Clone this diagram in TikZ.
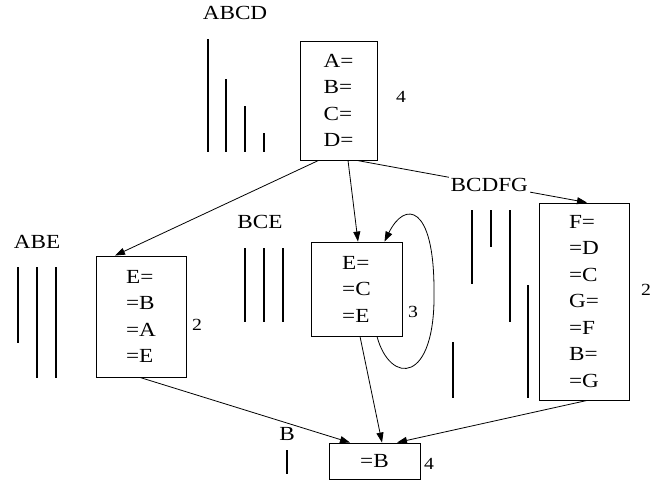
\documentclass[tikz,border=0pt]{standalone}
\usepackage{fontspec}
\setmainfont{Liberation Serif}[FakeStretch=1.16]
\usetikzlibrary{arrows.meta}
\begin{document}
\begin{tikzpicture}[x=1pt,y=-1pt,
  box/.style={draw, line width=0.9pt, rectangle, align=left, inner sep=0pt,
              font=\fontsize{20}{26.5}\selectfont},
  lbl/.style={font=\fontsize{20}{24}\selectfont, inner sep=1pt},
  num/.style={font=\fontsize{17}{20}\selectfont, inner sep=1pt},
  bar/.style={line width=2.4pt},
  edge/.style={line width=0.8pt, -{Triangle[length=10pt,width=7pt]}}]
\useasboundingbox (0,0) rectangle (658,482);

% record boxes
\node[box, minimum width=77pt, minimum height=119pt] (abcd) at (338.5,100.5) {A=\\B=\\C=\\D=};
\node[box, minimum width=90pt, minimum height=121pt] (abe) at (141,316.5) {E=\\=B\\=A\\=E};
\node[box, minimum width=91pt, minimum height=94pt] (bce) at (356.5,289) {E=\\=C\\=E};
\node[box, minimum width=90pt, minimum height=197pt] (bcdfg) at (584,301.5) {F=\\=D\\=C\\G=\\=F\\B=\\=G};
\node[box, minimum width=91pt, minimum height=36pt] (b) at (374.5,461) {=B};

% counts beside the boxes
\node[num] (n1) at (401,97) {4};
\node[num] (n2) at (197,325) {2};
\node[num] (n3) at (413,312) {3};
\node[num] (n4) at (646,290) {2};
\node[num] (n5) at (429,464) {4};

% group titles
\node[lbl] (t1) at (235,13) {ABCD};
\node[lbl] (t2) at (37,242) {ABE};
\node[lbl] (t3) at (260,222) {BCE};
\node[lbl] (t5) at (287,434) {B};

% bar groups
\draw[bar] (208,39) -- (208,152);
\draw[bar] (226,79) -- (226,152);
\draw[bar] (245,106) -- (245,152);
\draw[bar] (264,133) -- (264,152);

\draw[bar] (18,267) -- (18,343);
\draw[bar] (37,267) -- (37,378);
\draw[bar] (56,267) -- (56,378);

\draw[bar] (245,248) -- (245,322);
\draw[bar] (264,248) -- (264,322);
\draw[bar] (283,248) -- (283,322);

\draw[bar] (472,210) -- (472,284);
\draw[bar] (491,210) -- (491,247);
\draw[bar] (510,210) -- (510,322);
\draw[bar] (528,285) -- (528,398);
\draw[bar] (453,342) -- (453,398);

\draw[bar] (287,450) -- (287,474);

% connectors
\draw[edge] ([xshift=-20pt]abcd.south) -- ([xshift=-26pt]abe.north);
\draw[edge] ([xshift=9.5pt]abcd.south) -- ([xshift=1.5pt]bce.north);
\draw[edge] ([xshift=18.5pt]abcd.south) -- node[lbl, pos=0.575, fill=white, inner sep=2pt] (t4) {BCDFG} ([xshift=3pt]bcdfg.north);
\draw[edge] ([xshift=-1pt]abe.south) -- ([xshift=-24.5pt]b.north);
\draw[edge] ([xshift=3.5pt]bce.south) -- ([xshift=7.5pt]b.north);
\draw[edge] ([xshift=3pt]bcdfg.south) -- ([xshift=22.5pt]b.north);
\draw[edge] ([xshift=20.5pt]bce.south) .. controls (390,385) and (436,385) .. (434,290)
  .. controls (434,205) and (405,200) .. ([xshift=28pt]bce.north);
\end{tikzpicture}
\end{document}
